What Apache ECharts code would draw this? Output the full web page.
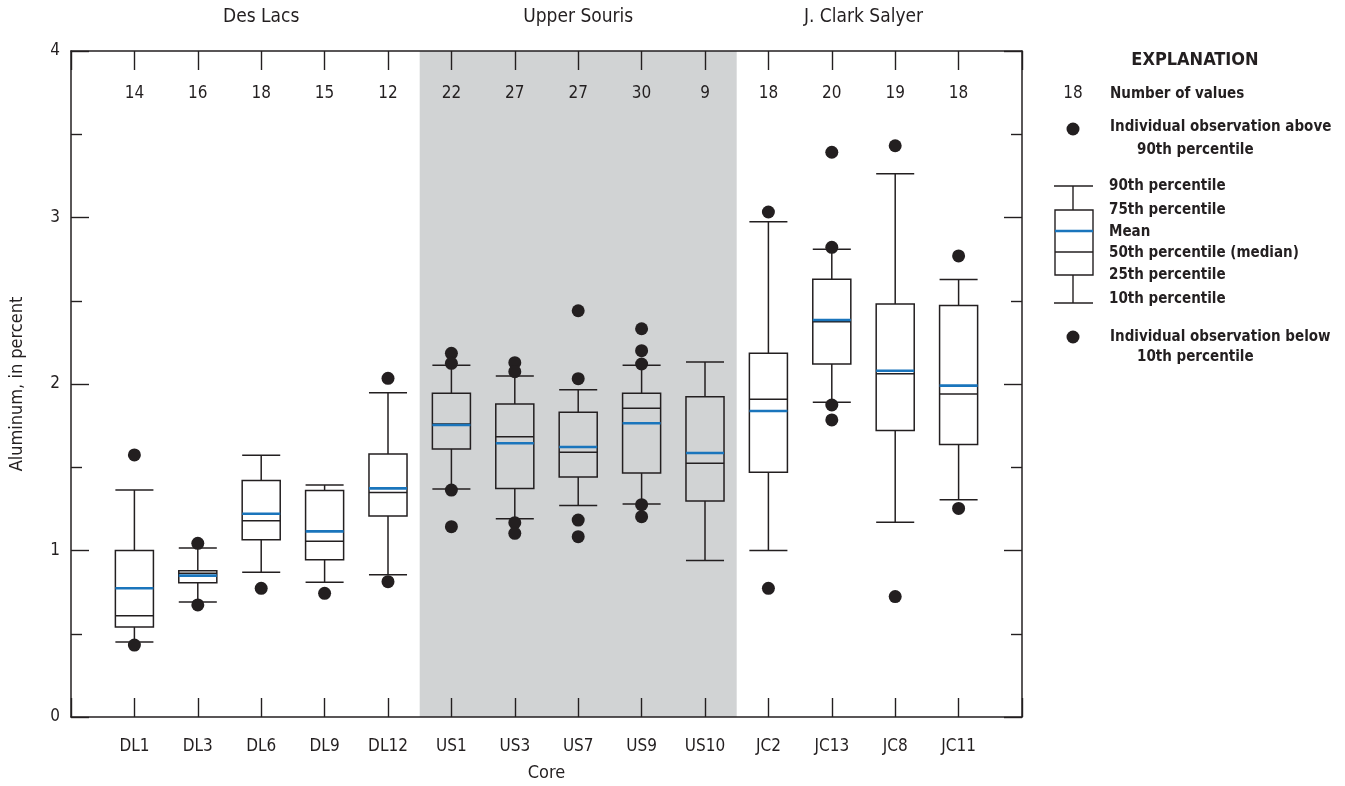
<!DOCTYPE html>
<html>
<head>
<meta charset="utf-8">
<script src="https://cdn.jsdelivr.net/npm/echarts@6/dist/echarts.min.js"></script>
<style>
  html, body { margin: 0; padding: 0; background: #fff; }
  #chart { width: 1345px; height: 786px; }
</style>
</head>
<body>
<div id="chart"></div>
<script>
  // core names, number of values
  var cores = ['DL1', 'DL3', 'DL6', 'DL9', 'DL12', 'US1', 'US3', 'US7', 'US9', 'US10', 'JC2', 'JC13', 'JC8', 'JC11']
  var counts = [14, 16, 18, 15, 12, 22, 27, 27, 30, 9, 18, 20, 19, 18]

  // percentiles
  var p10 = [0.45, 0.69, 0.87, 0.81, 0.855, 1.37, 1.19, 1.27, 1.28, 0.94, 1.00, 1.89, 1.17, 1.305]
  var p25 = [0.54, 0.807, 1.065, 0.945, 1.207, 1.61, 1.373, 1.441, 1.465, 1.297, 1.47, 2.12, 1.72, 1.636]
  var p50 = [0.608, 0.863, 1.179, 1.055, 1.349, 1.76, 1.683, 1.59, 1.854, 1.524, 1.908, 2.374, 2.062, 1.94]
  var means = [0.773, 0.849, 1.221, 1.115, 1.373, 1.754, 1.644, 1.622, 1.764, 1.586, 1.838, 2.384, 2.08, 1.99]
  var p75 = [1.0, 0.879, 1.421, 1.361, 1.58, 1.944, 1.88, 1.83, 1.944, 1.924, 2.184, 2.629, 2.48, 2.472]
  var p90 = [1.363, 1.015, 1.572, 1.393, 1.948, 2.112, 2.048, 1.966, 2.112, 2.132, 2.975, 2.809, 3.263, 2.627]

  // individual observations outside 10th-90th
  var outliers = [
    [1.574, 0.432],
    [1.043, 0.673],
    [0.773],
    [0.743],
    [2.034, 0.813],
    [2.184, 2.124, 1.363, 1.143],
    [2.128, 2.074, 1.167, 1.103],
    [2.44, 2.032, 1.183, 1.083],
    [2.332, 2.2, 2.12, 1.275, 1.203],
    [],
    [3.033, 0.773],
    [3.392, 2.821, 1.874, 1.784],
    [3.431, 0.723],
    [2.769, 1.253]
  ]

  var ink = '#231f20'
  var blue = '#1a75bc'
  var font = "'Liberation Sans Narrow', 'DejaVu Sans Condensed', 'Roboto', sans-serif"

  var boxData = cores.map(function (c, i) {
    return [i + 1, p10[i], p25[i], p50[i], means[i], p75[i], p90[i]]
  })
  var dotData = []
  outliers.forEach(function (list, i) {
    list.forEach(function (v) { dotData.push([i + 1, v]) })
  })

  function renderBox(params, api) {
    var x = api.value(0)
    var half = api.size([1, 0])[0] * 0.3
    var pt = function (v) { return api.coord([x, v]) }
    var lo = pt(api.value(1)), q1 = pt(api.value(2)), md = pt(api.value(3))
    var mn = pt(api.value(4)), q3 = pt(api.value(5)), hi = pt(api.value(6))
    var cx = lo[0]
    var st = { stroke: ink, lineWidth: 1.5, fill: null }
    return {
      type: 'group',
      children: [
        { type: 'line', shape: { x1: cx, y1: hi[1], x2: cx, y2: q3[1] }, style: st },
        { type: 'line', shape: { x1: cx, y1: q1[1], x2: cx, y2: lo[1] }, style: st },
        { type: 'line', shape: { x1: cx - half, y1: hi[1], x2: cx + half, y2: hi[1] }, style: st },
        { type: 'line', shape: { x1: cx - half, y1: lo[1], x2: cx + half, y2: lo[1] }, style: st },
        { type: 'rect', shape: { x: cx - half, y: q3[1], width: half * 2, height: q1[1] - q3[1] }, style: st },
        { type: 'line', shape: { x1: cx - half, y1: md[1], x2: cx + half, y2: md[1] }, style: st },
        { type: 'line', shape: { x1: cx - half, y1: mn[1], x2: cx + half, y2: mn[1] }, style: { stroke: blue, lineWidth: 2.6 } }
      ]
    }
  }

  var chart = echarts.init(document.getElementById('chart'))

  var lg = { fontFamily: font, fontSize: 15, fontWeight: 'bold', fill: ink, verticalAlign: 'middle' }
  function legendText(x, y, t, extra) {
    return { type: 'text', x: x, y: y, style: Object.assign({ text: t }, lg, extra || {}) }
  }
  function legendLine(x1, y1, x2, y2, color, w) {
    return { type: 'line', shape: { x1: x1, y1: y1, x2: x2, y2: y2 }, style: { stroke: color || ink, lineWidth: w || 1.4 } }
  }

  var axisLineStyle = { onZero: false, lineStyle: { color: ink, width: 1.5 } }
  var tickStyle = { color: ink, width: 1.4 }

  var option = {
    animation: false,
    textStyle: { fontFamily: font },
    grid: { left: 71, right: 323, top: 51, bottom: 69, outerBoundsMode: 'none', containLabel: false },
    xAxis: [
      {
        type: 'value', min: 0, max: 15, interval: 1, z: 10,
        name: 'Core', nameLocation: 'middle', nameGap: 47,
        nameTextStyle: { fontSize: 18, color: ink, fontFamily: font },
        axisLine: axisLineStyle,
        axisTick: { inside: true, length: 19, lineStyle: tickStyle },
        axisLabel: { fontSize: 17, color: ink, margin: 21, fontFamily: font,
          formatter: function (v) { return cores[v - 1] || '' } },
        splitLine: { show: false }
      },
      {
        type: 'value', min: 0, max: 15, interval: 1, position: 'top', z: 10,
        axisLine: axisLineStyle,
        axisTick: { inside: true, length: 19, lineStyle: tickStyle },
        axisLabel: { inside: true, fontSize: 17, color: ink, margin: 34, fontFamily: font,
          formatter: function (v) { return counts[v - 1] != null ? String(counts[v - 1]) : '' } },
        splitLine: { show: false }
      }
    ],
    yAxis: [
      {
        type: 'value', min: 0, max: 4, interval: 1, z: 10,
        name: 'Aluminum, in percent', nameLocation: 'middle', nameGap: 45,
        nameTextStyle: { fontSize: 18, color: ink, fontFamily: font },
        axisLine: Object.assign({ show: true }, axisLineStyle),
        axisTick: { inside: true, length: 18, lineStyle: tickStyle },
        minorTick: { show: true, splitNumber: 2, length: 11, lineStyle: tickStyle },
        axisLabel: { fontSize: 17, color: ink, margin: 11, fontFamily: font },
        splitLine: { show: false }
      },
      {
        type: 'value', min: 0, max: 4, interval: 1, position: 'right', z: 10,
        axisLine: Object.assign({ show: true }, axisLineStyle),
        axisTick: { inside: true, length: 18, lineStyle: tickStyle },
        minorTick: { show: true, splitNumber: 2, length: 11, lineStyle: tickStyle },
        axisLabel: { show: false },
        splitLine: { show: false }
      }
    ],
    series: [
      {
        type: 'line', data: [], z: 0,
        markArea: {
          silent: true,
          label: { position: 'top', distance: 24, fontSize: 19, color: ink, fontFamily: font },
          data: [
            [{ name: 'Des Lacs', xAxis: 0.5, itemStyle: { color: 'rgba(0,0,0,0)' } }, { xAxis: 5.5 }],
            [{ name: 'Upper Souris', xAxis: 5.5, itemStyle: { color: '#d1d3d4' } }, { xAxis: 10.5 }],
            [{ name: 'J. Clark Salyer', xAxis: 10.5, itemStyle: { color: 'rgba(0,0,0,0)' } }, { xAxis: 14.5 }]
          ]
        }
      },
      {
        type: 'custom', z: 2, renderItem: renderBox,
        encode: { x: 0, y: [1, 2, 3, 4, 5, 6] },
        data: boxData
      },
      {
        type: 'scatter', z: 3, symbolSize: 13,
        itemStyle: { color: ink, opacity: 1 },
        data: dotData
      }
    ],
    graphic: [
      legendText(1195, 60, 'EXPLANATION', { fontSize: 18, align: 'center' }),
      legendText(1073, 94, '18', { fontWeight: 'normal', fontSize: 17, align: 'center' }),
      legendText(1110, 94, 'Number of values'),
      { type: 'circle', shape: { cx: 1073, cy: 129, r: 6.5 }, style: { fill: ink } },
      legendText(1110, 127, 'Individual observation above'),
      legendText(1137, 150, '90th percentile'),
      legendLine(1054, 186, 1093, 186),
      legendLine(1073, 186, 1073, 210),
      { type: 'rect', shape: { x: 1055, y: 210, width: 38, height: 65 }, style: { stroke: ink, lineWidth: 1.4, fill: null } },
      legendLine(1055, 231, 1093, 231, blue, 2.6),
      legendLine(1055, 252, 1093, 252),
      legendLine(1073, 275, 1073, 303),
      legendLine(1054, 303, 1093, 303),
      legendText(1109, 186, '90th percentile'),
      legendText(1109, 210, '75th percentile'),
      legendText(1109, 232, 'Mean'),
      legendText(1109, 253, '50th percentile (median)'),
      legendText(1109, 275, '25th percentile'),
      legendText(1109, 299, '10th percentile'),
      { type: 'circle', shape: { cx: 1073, cy: 337, r: 6.5 }, style: { fill: ink } },
      legendText(1110, 337, 'Individual observation below'),
      legendText(1137, 357, '10th percentile')
    ]
  }

  chart.setOption(option)
</script>
</body>
</html>
